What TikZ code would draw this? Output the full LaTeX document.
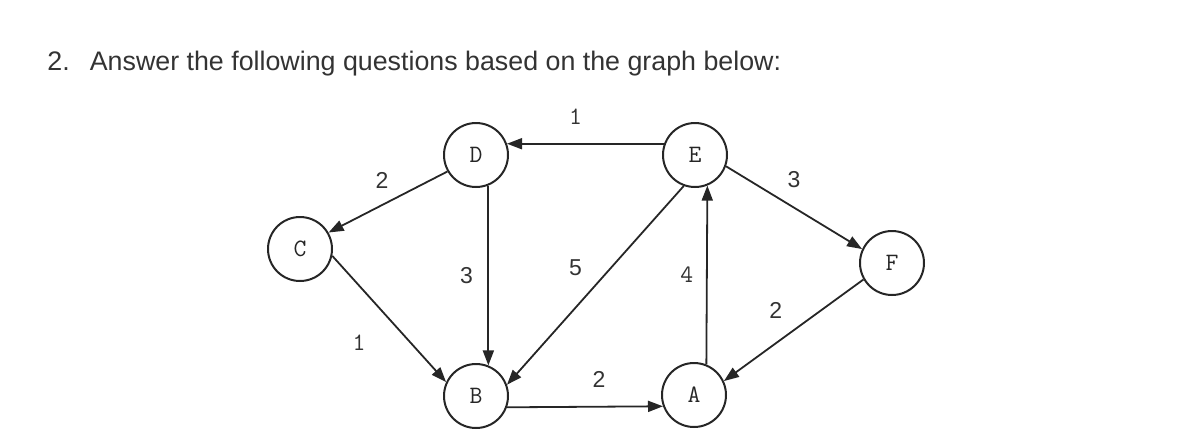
\documentclass[tikz,border=0pt]{standalone}
\usepackage{fontspec}
\setmainfont{Liberation Sans}
\usetikzlibrary{arrows.meta}

\begin{document}
\begin{tikzpicture}[x=0.5pt, y=-0.5pt,
  vertex/.style={draw=black!85, circle, line width=1pt, minimum size=32pt, inner sep=0pt,
    font=\ttfamily\fontsize{12.5}{12.5}\selectfont, text=black!85},
  edge/.style={draw=black!85, line width=0.9pt, -{Triangle[length=7.5pt,width=5.5pt]}},
  weight/.style={font=\fontsize{11.5}{11.5}\selectfont, text=black!80},
  monow/.style={weight, font=\ttfamily\fontsize{12.5}{12.5}\selectfont}]
  \useasboundingbox (0,0) rectangle (1200,446);
  \node[anchor=base west, inner sep=0pt, font=\fontsize{13.4}{13.4}\selectfont, text=black!80] (title) at (47,70)
    {2.\hspace{0.75em}Answer the following questions based on the graph below:};
  % vertices
  \node[vertex] (C) at (300,249) {C};
  \node[vertex] (D) at (476,155) {D};
  \node[vertex] (E) at (695,155) {E};
  \node[vertex] (F) at (892,263) {F};
  \node[vertex] (B) at (476,396) {B};
  \node[vertex] (A) at (694,395) {A};
  % weighted edges
  \draw[edge] (E.160) -- (D.20) node[midway, above=6pt, xshift=-5pt, monow]{1};
  \draw[edge] (D.-150) -- (C.30) node[midway, above=3pt, xshift=-3pt, weight]{2};
  \draw[edge] (C.-12) -- (B.155) node[midway, below left=4pt, xshift=-4pt, monow]{1};
  \draw[edge] (D.-68) -- (B.68) node[midway, left=4pt, weight]{3};
  \draw[edge] (E.-110) -- (B.20) node[midway, above left=1pt, xshift=-2pt, weight]{5};
  \draw[edge] (A.68) -- (E.-68) node[midway, left=3pt, monow]{4};
  \draw[edge] (E.-20) -- (F.155) node[midway, above=6pt, weight]{3};
  \draw[edge] (F.-150) -- (A.25) node[midway, above left=2pt, weight]{2};
  \draw[edge] (B.-20) -- (A.-160) node[midway, above=6pt, xshift=7pt, weight]{2};
\end{tikzpicture}
\end{document}
